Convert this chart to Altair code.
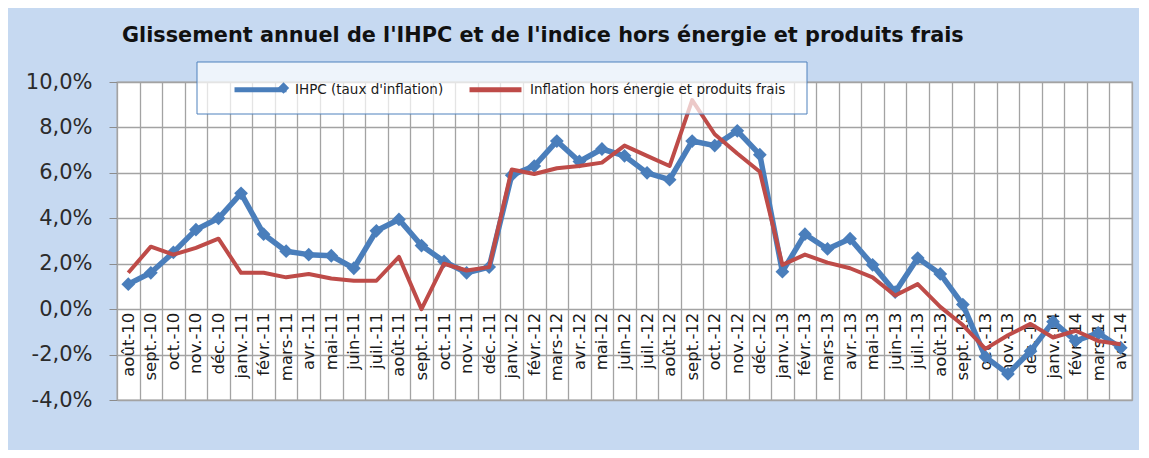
import json
import altair as alt
import pandas as pd

labels = ["août-10", "sept.-10", "oct.-10", "nov.-10", "déc.-10",
          "janv.-11", "févr.-11", "mars-11", "avr.-11", "mai-11", "juin-11",
          "juil.-11", "août-11", "sept.-11", "oct.-11", "nov.-11", "déc.-11",
          "janv.-12", "févr.-12", "mars-12", "avr.-12", "mai-12", "juin-12",
          "juil.-12", "août-12", "sept.-12", "oct.-12", "nov.-12", "déc.-12",
          "janv.-13", "févr.-13", "mars-13", "avr.-13", "mai-13", "juin-13",
          "juil.-13", "août-13", "sept.-13", "oct.-13", "nov.-13", "déc.-13",
          "janv.-14", "févr.-14", "mars-14", "avr.-14"]

ihpc = [1.1, 1.6, 2.5, 3.5, 4.0, 5.1, 3.3, 2.55, 2.4, 2.35, 1.8,
        3.45, 3.95, 2.8, 2.1, 1.6, 1.85,
        5.9, 6.3, 7.4, 6.5, 7.05, 6.75, 6.0, 5.7, 7.4, 7.2, 7.85, 6.8,
        1.65, 3.3, 2.65, 3.1, 1.95, 0.75, 2.25, 1.55, 0.2, -2.1, -2.85, -1.85,
        -0.55, -1.4, -1.05, -1.7]

core = [1.6, 2.75, 2.4, 2.7, 3.1, 1.6, 1.6, 1.4, 1.55, 1.35, 1.25,
        1.25, 2.3, 0.0, 2.0, 1.7, 1.85,
        6.15, 5.95, 6.2, 6.3, 6.45, 7.2, 6.75, 6.3, 9.2, 7.7, 6.85, 6.05,
        1.95, 2.4, 2.05, 1.8, 1.4, 0.6, 1.1, 0.1, -0.7, -1.75, -1.15, -0.65,
        -1.25, -0.95, -1.4, -1.55]

series_names = ["IHPC (taux d'inflation)", "Inflation hors énergie et produits frais"]
series_colors = ["#4A7EBB", "#BE4B48"]
y_ticks = [-4, -2, 0, 2, 4, 6, 8, 10]
title_text = "Glissement annuel de l'IHPC et de l'indice hors énergie et produits frais"

rows = []
for i, lab in enumerate(labels):
    rows.append({"i": i, "mois": lab, "serie": series_names[0], "marq": "m", "v": ihpc[i]})
    rows.append({"i": i, "mois": lab, "serie": series_names[1], "marq": "m", "v": core[i]})
df = pd.DataFrame(rows)

W, H = 1015, 318
ymin, ymax = -4, 10
FONT = "DejaVu Sans"
GRID = "#A3A3A3"

xscale = alt.Scale(domain=[-0.5, len(labels) - 0.5], nice=False, zero=False)
yscale = alt.Scale(domain=[ymin, ymax], nice=False, zero=False)
cscale = alt.Scale(domain=series_names, range=series_colors)

lab_js = json.dumps(labels, ensure_ascii=False)
zero_offset = -(H - H * (ymax - 0) / (ymax - ymin))

grid_axis = alt.Axis(values=[k - 0.5 for k in range(len(labels) + 1)], grid=True,
                     gridColor=GRID, gridWidth=1.3, labels=False, ticks=False,
                     domain=False, title=None, orient="bottom")
label_axis = alt.Axis(values=list(range(len(labels))), labelExpr=f"{lab_js}[datum.value]",
                      labelAngle=270, labelAlign="right", labelBaseline="middle",
                      labelPadding=3, ticks=False, domain=False, grid=False,
                      offset=zero_offset, labelFont=FONT, labelFontSize=16.5,
                      labelColor="#1a1a1a", labelOverlap=False, labelFlush=False,
                      labelBound=False, title=None, orient="bottom")
y_axis = alt.Axis(values=y_ticks,
                  labelExpr="replace(replace(format(datum.value, '.1f'), '.', ','), '−', '-') + '%'",
                  grid=True, gridColor=GRID, gridWidth=1.3, tickColor="#8C8C8C",
                  tickSize=8, domainColor=GRID, labelFont=FONT, labelFontSize=21,
                  labelColor="#2b2b2b", labelPadding=17, title=None)

legend_a = alt.Legend(orient="none", legendX=115, legendY=-21, direction="horizontal",
                      symbolType="stroke", symbolSize=2700, symbolStrokeWidth=5,
                      labelFont=FONT, labelFontSize=13.5, labelColor="#1a1a1a",
                      labelOffset=6, columnPadding=15, labelLimit=500,
                      title=None, padding=0)

base = alt.Chart(df)

blue_line = base.transform_filter(alt.datum.serie == series_names[0]).mark_line(
    strokeWidth=5.5, strokeJoin="round").encode(
    x=alt.X("i:Q", scale=xscale, axis=grid_axis),
    y=alt.Y("v:Q", scale=yscale, axis=y_axis),
    color=alt.Color("serie:N", scale=cscale, legend=legend_a),
)

blue_pts = base.transform_filter(alt.datum.serie == series_names[0]).mark_point(
    filled=True, size=190, opacity=1, color=series_colors[0]).encode(
    x=alt.X("i:Q", scale=xscale, axis=None),
    y=alt.Y("v:Q", scale=yscale, axis=y_axis),
    shape=alt.Shape("marq:N", scale=alt.Scale(domain=["m"], range=["diamond"]),
                    legend=alt.Legend(orient="none", legendX=160, legendY=-0.5,
                                      title=None, labelExpr="''", symbolSize=130,
                                      symbolType="diamond",
                                      symbolFillColor=series_colors[0],
                                      symbolStrokeColor=series_colors[0],
                                      padding=0)),
)

red_line = base.transform_filter(alt.datum.serie == series_names[1]).mark_line(
    strokeWidth=4, strokeJoin="round").encode(
    x=alt.X("i:Q", scale=xscale, axis=label_axis),
    y=alt.Y("v:Q", scale=yscale, axis=y_axis),
    color=alt.Color("serie:N", scale=cscale, legend=legend_a),
)

box = alt.Chart(pd.DataFrame({"k": [0]})).mark_rect(
    fill="white", fillOpacity=0.7, stroke="#4F81BD", strokeWidth=1).encode(
    x=alt.value(80), x2=alt.value(690), y=alt.value(-20), y2=alt.value(32))

chart = alt.layer(blue_line, blue_pts, red_line, box).resolve_axis(
    x="independent").properties(
    width=W, height=H,
    title=alt.TitleParams(title_text, font=FONT, fontSize=20.8, fontWeight="bold",
                          color="#111111", anchor="start", frame="group", dx=5, offset=14),
    autosize=alt.AutoSizeParams(type="none"),
    padding={"left": 109, "top": 74, "right": 7, "bottom": 50},
    background="#C6D9F1",
).configure_view(fill="white", stroke=GRID, strokeWidth=1.3)

chart.save("out.html", embed_options={"renderer": "svg", "actions": False})
